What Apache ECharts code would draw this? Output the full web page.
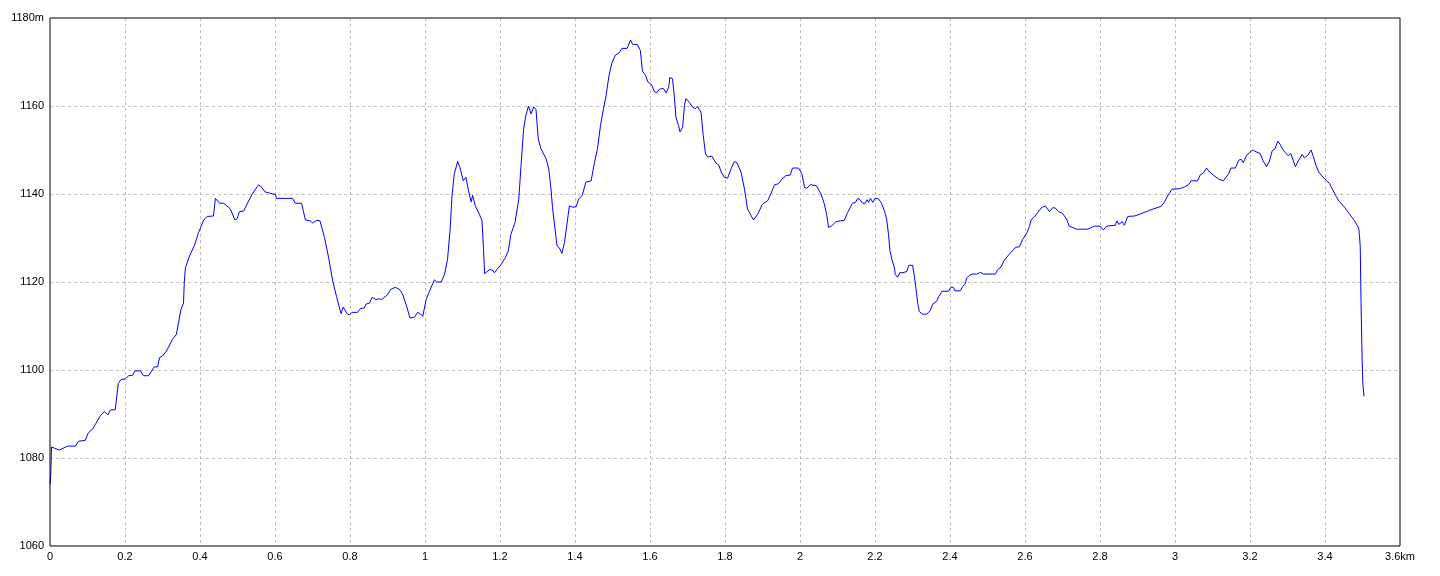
<!DOCTYPE html>
<html>
<head>
<meta charset="utf-8">
<script src="https://cdn.jsdelivr.net/npm/echarts@6/dist/echarts.min.js"></script>
<style>
html,body{margin:0;padding:0;background:#fff;}
#chart{width:1440px;height:576px;}
</style>
</head>
<body>
<div id="chart"></div>
<script>
// distance along route (km)
const distanceKm = [
0,0.002,0.004,0.025,0.047,0.068,0.076,0.094,0.102,0.114,0.134,0.145,0.154,0.161,0.174,0.182,0.189,0.201,0.21,0.22,
0.227,0.241,0.249,0.263,0.278,0.287,0.292,0.30,0.309,0.327,0.337,0.349,0.356,0.358,0.361,0.372,0.385,0.396,0.41,0.419,
0.436,0.441,0.452,0.463,0.481,0.493,0.499,0.505,0.516,0.538,0.556,0.565,0.573,0.585,0.601,0.604,0.647,0.654,0.671,0.681,
0.694,0.70,0.711,0.72,0.732,0.743,0.754,
0.764,0.776,0.782,0.787,0.792,0.798,0.805,0.82,0.827,0.838,0.843,0.852,0.859,0.869,0.878,0.884,0.9,0.908,0.921,0.932,
0.94,0.951,0.96,0.972,0.98,0.987,0.994,1.003,1.012,1.025,1.031,1.043,1.052,1.06,1.067,1.072,1.078,1.087,1.093,1.102,
1.109,1.116,1.123,1.127,1.134,1.145,1.152,1.156,1.159,1.164,1.172,1.18,1.185,1.194,1.203,1.214,1.222,1.229,1.24,1.25,
1.256,1.263,1.269,1.276,1.283,1.29,1.296,1.302,1.309,1.323,1.33,1.336,1.34,1.349,1.352,
1.358,1.365,1.372,1.378,1.385,1.394,1.403,1.41,1.419,1.429,1.443,1.452,1.46,1.468,1.476,1.483,1.49,1.498,1.508,1.518,
1.525,1.539,1.548,1.554,1.566,1.574,1.58,1.588,1.594,1.604,1.612,1.618,1.625,1.636,1.643,1.65,1.653,1.66,1.665,1.669,
1.676,1.68,1.687,1.692,1.696,1.705,1.714,1.721,1.726,1.736,1.742,1.748,1.754,1.765,1.776,1.783,1.791,1.798,1.807,1.816,
1.825,1.832,1.843,1.852,1.86,1.869,1.876,1.887,1.9,1.914,1.923,1.932,1.942,1.952,1.963,1.974,1.98,1.996,2.005,2.012,
2.018,2.027,2.044,2.056,2.065,2.071,2.076,2.085,2.096,2.107,
2.118,2.127,2.14,2.148,2.154,2.16,2.167,2.174,2.179,2.183,2.188,2.194,2.2,2.209,2.216,2.225,2.231,2.236,2.24,2.245,
2.252,2.254,2.26,2.267,2.274,2.278,2.285,2.29,2.3,2.305,2.309,2.314,2.318,2.327,2.338,2.347,2.354,2.364,2.37,2.379,
2.396,2.403,2.409,2.413,2.427,2.434,2.441,2.444,2.452,2.459,2.471,2.482,2.489,2.521,2.527,2.536,2.545,2.558,2.569,2.576,
2.585,2.594,2.605,2.612,2.616,2.625,2.634,2.644,2.654,2.665,2.674,2.681,2.689,2.7,2.711,2.718,2.738,2.767,2.785,2.8,
2.809,2.818,2.841,2.845,2.85,2.859,2.865,2.874,2.892,
2.909,2.932,2.949,2.963,2.972,2.98,2.992,3.012,3.025,3.036,3.043,3.06,3.067,3.076,3.084,3.092,3.105,3.118,3.129,3.134,
3.143,3.149,3.161,3.17,3.176,3.182,3.191,3.196,3.207,3.216,3.227,3.234,3.244,3.252,3.259,3.267,3.274,3.28,3.287,3.296,
3.302,3.309,3.321,3.33,3.339,3.345,3.354,3.363,3.37,3.376,3.383,3.392,3.403,3.412,3.419,3.428,3.438,3.452,3.465,3.478,
3.487,3.49,3.492,3.494,3.496,3.499,3.501,3.504
];
// elevation (m)
const elevationM = [
1074,1076,1082.5,1081.8,1082.7,1082.7,1083.8,1084,1085.7,1086.6,1089.6,1090.6,1089.8,1090.9,1091,1096.9,1097.8,1098,1098.7,1098.8,
1099.8,1099.8,1098.7,1098.7,1100.7,1100.7,1102.8,1103.2,1104.1,1107,1108.1,1113.7,1115.2,1119.8,1123.2,1125.9,1128.3,1131.2,1134.1,1134.9,
1135,1139,1137.9,1137.9,1136.6,1134.1,1134.4,1136,1136.1,1139.8,1142.1,1141.5,1140.5,1140.2,1139.9,1139,1139,1137.9,1137.9,1134.1,
1133.9,1133.4,1134,1133.9,1130.1,1125.5,1120.2,
1116.7,1112.8,1114.3,1114.1,1112.8,1112.5,1113.1,1113.1,1113.9,1114.1,1115,1115.2,1116.5,1116,1116.2,1116,1117.1,1118.3,1118.8,1118.3,
1117.3,1114.5,1111.8,1112,1113.1,1112.8,1112.2,1116,1117.9,1120.5,1120,1120,1121.7,1125.1,1132,1139.6,1144.5,1147.4,1146.1,1143,
1143.8,1140.7,1138.2,1139.7,1137.3,1135.4,1133.9,1127.4,1121.9,1121.9,1122.8,1122.7,1122.1,1123.1,1124,1125.5,1127,1130.8,1133.5,1138.8,
1146.4,1154.8,1157.9,1160,1158.2,1159.8,1159.2,1152.5,1150.3,1148,1145.7,1141.1,1136.9,1130.4,1128.2,
1127.8,1126.5,1129,1132.8,1137.3,1137,1137.1,1138.9,1139.6,1142.7,1143,1147.2,1150.3,1155.6,1159.4,1162.4,1166.6,1169.7,1171.6,1172.1,
1173.1,1173.1,1175,1174,1174,1172.7,1167.9,1167,1165.5,1164.9,1163.2,1163,1163.8,1164,1163,1164.3,1166.5,1166.2,1162.1,1157.5,
1155.6,1154.1,1155.2,1160.2,1161.7,1160.8,1159.7,1159.4,1159.9,1158.6,1153.3,1149.1,1148.4,1148.6,1147,1146.6,1144.8,1143.8,1143.6,1145.7,
1147.4,1147.1,1144.9,1141.1,1136.6,1135.2,1134.1,1135.4,1137.7,1138.5,1140.2,1142.1,1142.3,1143.4,1144.2,1144.3,1145.9,1145.9,1144.6,1141.5,
1141.3,1142.1,1141.9,1140,1137.7,1135.4,1132.4,1132.8,1133.7,1133.9,
1134,1135.8,1137.9,1138.1,1139,1138.7,1137.9,1137.9,1138.7,1138.1,1139,1138.1,1139,1138.9,1138.1,1136.2,1134.3,1130.8,1127,1125.1,
1123.2,1121.7,1121.1,1122.2,1122.1,1121.9,1122.4,1123.8,1123.8,1121.3,1118.6,1115.2,1113.3,1112.7,1112.7,1113.5,1115,1115.6,1116.7,1117.9,
1117.9,1118.9,1118.8,1118,1118,1119,1119.6,1120.9,1121.5,1121.8,1121.8,1122.2,1121.8,1121.8,1122.8,1123.4,1125,1126.3,1127.4,1127.9,
1128,1129.7,1131.2,1132.6,1134.1,1134.8,1135.8,1136.9,1137.3,1136,1136.9,1136.8,1136,1135.6,1134.3,1132.7,1132,1132,1132.7,1132.7,
1131.8,1132.7,1132.9,1133.9,1133.1,1133.7,1132.9,1134.9,1135,
1135.5,1136.3,1136.8,1137.2,1138.2,1139.5,1141.1,1141.2,1141.6,1142.1,1143,1143,1144.3,1144.8,1145.9,1145,1144.1,1143.3,1143,1143.1,
1144.6,1145.9,1145.9,1147.7,1147.9,1147.1,1148.8,1149.2,1150,1149.6,1149.2,1147.7,1146.2,1147.5,1149.8,1150.3,1152,1151.3,1150.2,1149.2,
1148.7,1149.2,1146.2,1147.7,1149,1148.2,1148.8,1150,1148.2,1146.5,1145,1144.1,1143.1,1142.4,1141.2,1139.7,1138.3,1137,1135.5,1134,
1132.7,1132.2,1130.4,1127.9,1115.6,1102.3,1096.8,1094
];
const xAxisMin = 0, xAxisMax = 3.6, xAxisStep = 0.2, xUnit = 'km';
const yAxisMin = 1060, yAxisMax = 1180, yAxisStep = 20, yUnit = 'm';

const seriesData = distanceKm.map((d, i) => [d, elevationM[i]]);
const labelFont = { color: '#000', fontSize: 11, fontFamily: 'Liberation Sans, Arial, sans-serif' };

const chart = echarts.init(document.getElementById('chart'), null, { renderer: 'canvas' });
chart.setOption({
  animation: false,
  backgroundColor: '#ffffff',
  grid: {
    left: 50, right: 40, top: 18, bottom: 30,
    show: true, borderColor: '#000', borderWidth: 1, backgroundColor: 'transparent', z: 5
  },
  xAxis: {
    type: 'value', min: xAxisMin, max: xAxisMax, interval: xAxisStep,
    axisLine: { show: false }, axisTick: { show: false },
    axisLabel: Object.assign({
      margin: 5,
      formatter: v => {
        const s = String(parseFloat(v.toFixed(1)));
        return Math.abs(v - xAxisMax) < 1e-6 ? s + xUnit : s;
      }
    }, labelFont),
    splitLine: { show: true, showMinLine: false, showMaxLine: false,
      lineStyle: { color: '#c0c0c0', type: [3, 3], width: 1 } }
  },
  yAxis: {
    type: 'value', min: yAxisMin, max: yAxisMax, interval: yAxisStep,
    axisLine: { show: false }, axisTick: { show: false },
    axisLabel: Object.assign({
      margin: 6,
      formatter: v => (v === yAxisMax ? v + yUnit : String(v))
    }, labelFont),
    splitLine: { show: true, showMinLine: false, showMaxLine: false,
      lineStyle: { color: '#c0c0c0', type: [3, 3], width: 1 } }
  },
  series: [{
    type: 'line',
    data: seriesData,
    showSymbol: false,
    symbol: 'none',
    smooth: false,
    lineStyle: { color: '#0000ff', width: 1 },
    z: 3
  }]
});
</script>
</body>
</html>
